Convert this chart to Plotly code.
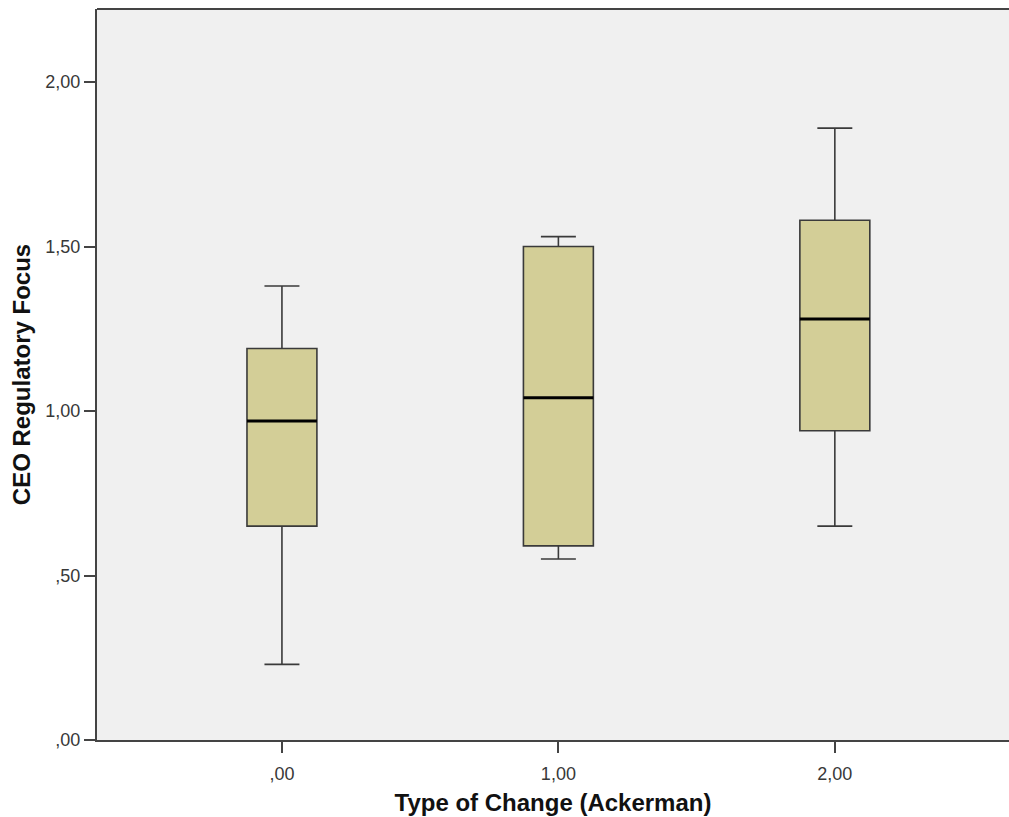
import plotly.graph_objects as go

categories = [0, 1, 2]
cat_labels = [",00", "1,00", "2,00"]
lower_whisker = [0.23, 0.55, 0.65]
q1 = [0.65, 0.59, 0.94]
median = [0.97, 1.04, 1.28]
q3 = [1.19, 1.50, 1.58]
upper_whisker = [1.38, 1.53, 1.86]
y_ticks = [0, 0.5, 1.0, 1.5, 2.0]
y_tick_labels = [",00", ",50", "1,00", "1,50", "2,00"]

box_width = 0.253

fig = go.Figure()
fig.add_trace(go.Box(
    x=categories, q1=q1, median=median, q3=q3,
    lowerfence=lower_whisker, upperfence=upper_whisker,
    width=box_width, whiskerwidth=0.5,
    fillcolor="#D3CE97", line=dict(color="#3a3a3a", width=1.6),
    boxpoints=False, showlegend=False, hoverinfo="skip",
))
# thicker median lines
for c, m in zip(categories, median):
    fig.add_trace(go.Scatter(
        x=[c - box_width / 2, c + box_width / 2], y=[m, m], mode="lines",
        line=dict(color="black", width=3), showlegend=False, hoverinfo="skip",
    ))

axis_font = dict(family="Liberation Sans, Arial, sans-serif", size=18, color="#383838")
title_font = dict(family="Liberation Sans, Arial, sans-serif", size=24, color="#111111")
fig.update_layout(
    width=1009, height=817,
    margin=dict(l=97, r=0, t=9, b=77),
    paper_bgcolor="white", plot_bgcolor="#F0F0F0",
    font=axis_font,
    xaxis=dict(
        range=[-0.669, 2.63], tickvals=categories, ticktext=cat_labels,
        showgrid=False, zeroline=False, showline=True, linecolor="#444444", linewidth=2,
        ticks="outside", ticklen=11, tickwidth=2, tickcolor="#444444",
        ticklabelstandoff=5,
        title=dict(text="<b>Type of Change (Ackerman)</b>", font=title_font, standoff=12),
    ),
    yaxis=dict(
        range=[0, 2.222], tickvals=y_ticks, ticktext=y_tick_labels,
        showgrid=False, zeroline=False, showline=True, linecolor="#444444", linewidth=2,
        ticks="outside", ticklen=11, tickwidth=2, tickcolor="#444444",
        title=dict(text="<b>CEO Regulatory Focus</b>", font=title_font, standoff=8),
    ),
)
# top border line of the plot area
fig.add_shape(type="line", xref="paper", yref="paper", x0=0, x1=1, y0=1, y1=1,
              line=dict(color="#444444", width=2))

fig.write_html(
    "out.html",
    config={"displayModeBar": False, "staticPlot": True},
    post_script="document.body.style.margin='0';document.body.style.overflow='hidden';",
)
